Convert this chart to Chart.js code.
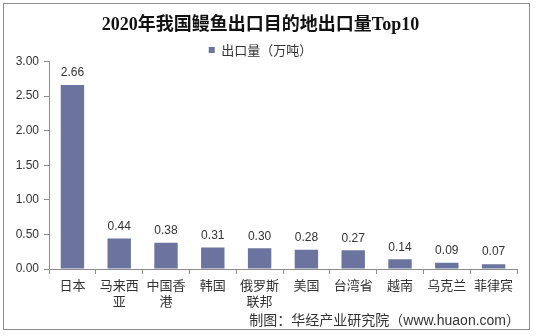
<!DOCTYPE html>
<html>
<head>
<meta charset="utf-8">
<script src="https://cdn.jsdelivr.net/npm/chart.js@4/dist/chart.umd.min.js"></script>
<style>
    html, body { margin: 0; padding: 0; background: #fff; }
    #wrap {
        position: absolute; left: 3px; top: 3px;
        width: 525px; height: 325px;
        border: 1px solid #8c8c8c;
    }
</style>
</head>
<body>
<div id="wrap"><canvas id="chartExport" width="525" height="325"></canvas></div>
<script>
// ============================================================
// Datos: exportaciones de anguila 2020 (万吨)
// ============================================================
const destinos = ['日本', ['马来西', '亚'], ['中国香', '港'], '韩国', ['俄罗斯', '联邦'], '美国', '台湾省', '越南', '乌克兰', '菲律宾'];
const volumen = [2.66, 0.44, 0.38, 0.31, 0.30, 0.28, 0.27, 0.14, 0.09, 0.07];
const ticksY = [0, 0.5, 1, 1.5, 2, 2.5, 3];

const colorBarra = '#6b749f';
const colorTexto = '#333333';
const colorEje = '#8c8c8c';
const fuenteSans = '"Liberation Sans", "Noto Sans CJK SC", sans-serif';

// Etiquetas de valor encima de cada barra
const etiquetasValor = {
    id: 'etiquetasValor',
    afterDatasetsDraw(chart) {
        const ctx = chart.ctx;
        const meta = chart.getDatasetMeta(0);
        ctx.save();
        ctx.font = '12px ' + fuenteSans;
        ctx.fillStyle = colorTexto;
        ctx.textAlign = 'center';
        ctx.textBaseline = 'bottom';
        meta.data.forEach((bar, i) => {
            ctx.fillText(volumen[i].toFixed(2), bar.x, bar.y - 6);
        });
        ctx.restore();
    }
};

// Nota de fuente abajo a la derecha
const notaFuente = {
    id: 'notaFuente',
    afterDraw(chart) {
        const ctx = chart.ctx;
        ctx.save();
        ctx.font = '14px ' + fuenteSans;
        ctx.fillStyle = colorTexto;
        ctx.textAlign = 'right';
        ctx.textBaseline = 'middle';
        ctx.fillText('制图：华经产业研究院（www.huaon.com）', chart.chartArea.right + 3, 317);
        ctx.restore();
    }
};

// Leyenda más baja sin empujar el área del gráfico
const alturaLeyenda = {
    id: 'alturaLeyenda',
    afterInit(chart) {
        const legend = chart.legend;
        if (!legend) return;
        const fitOriginal = legend.fit;
        legend.fit = function() {
            fitOriginal.call(this);
            this.height = 25;
        };
    }
};

new Chart(document.getElementById('chartExport'), {
    type: 'bar',
    data: {
        labels: destinos,
        datasets: [{
            label: '出口量（万吨）',
            data: volumen,
            backgroundColor: colorBarra,
            borderWidth: 0,
            categoryPercentage: 1,
            barPercentage: 0.5
        }]
    },
    options: {
        responsive: false,
        animation: false,
        layout: { padding: { left: 0, right: 12, top: 0, bottom: 0 } },
        plugins: {
            title: {
                display: true,
                text: '2020年我国鳗鱼出口目的地出口量Top10',
                color: '#111',
                font: { family: '"Liberation Serif", "Noto Sans CJK SC", serif', size: 18, weight: 'bold' },
                padding: { top: 11, bottom: 0 }
            },
            legend: {
                display: true,
                labels: {
                    color: colorTexto,
                    font: { family: '"Noto Sans CJK SC", sans-serif', size: 13 },
                    boxWidth: 6,
                    boxHeight: 6,
                    padding: 7
                }
            },
            tooltip: { enabled: false }
        },
        scales: {
            x: {
                offset: true,
                grid: { offset: true, drawOnChartArea: false, tickLength: 5, color: colorEje },
                border: { color: colorEje },
                ticks: {
                    color: colorTexto,
                    font: { family: '"Noto Sans CJK SC", sans-serif', size: 13, lineHeight: 1.23 },
                    padding: 3,
                    maxRotation: 0,
                    autoSkip: false
                },
                afterFit(scale) { scale.height = 60; }
            },
            y: {
                min: 0,
                max: 3,
                afterBuildTicks(scale) { scale.ticks = ticksY.map(v => ({ value: v })); },
                grid: { drawOnChartArea: false, tickLength: 5, color: colorEje },
                border: { color: colorEje },
                ticks: {
                    color: colorTexto,
                    font: { family: fuenteSans, size: 12 },
                    padding: 5,
                    callback: v => Number(v).toFixed(2)
                },
                afterFit(scale) { scale.width = 45; }
            }
        }
    },
    plugins: [alturaLeyenda, etiquetasValor, notaFuente]
});
</script>
</body>
</html>
